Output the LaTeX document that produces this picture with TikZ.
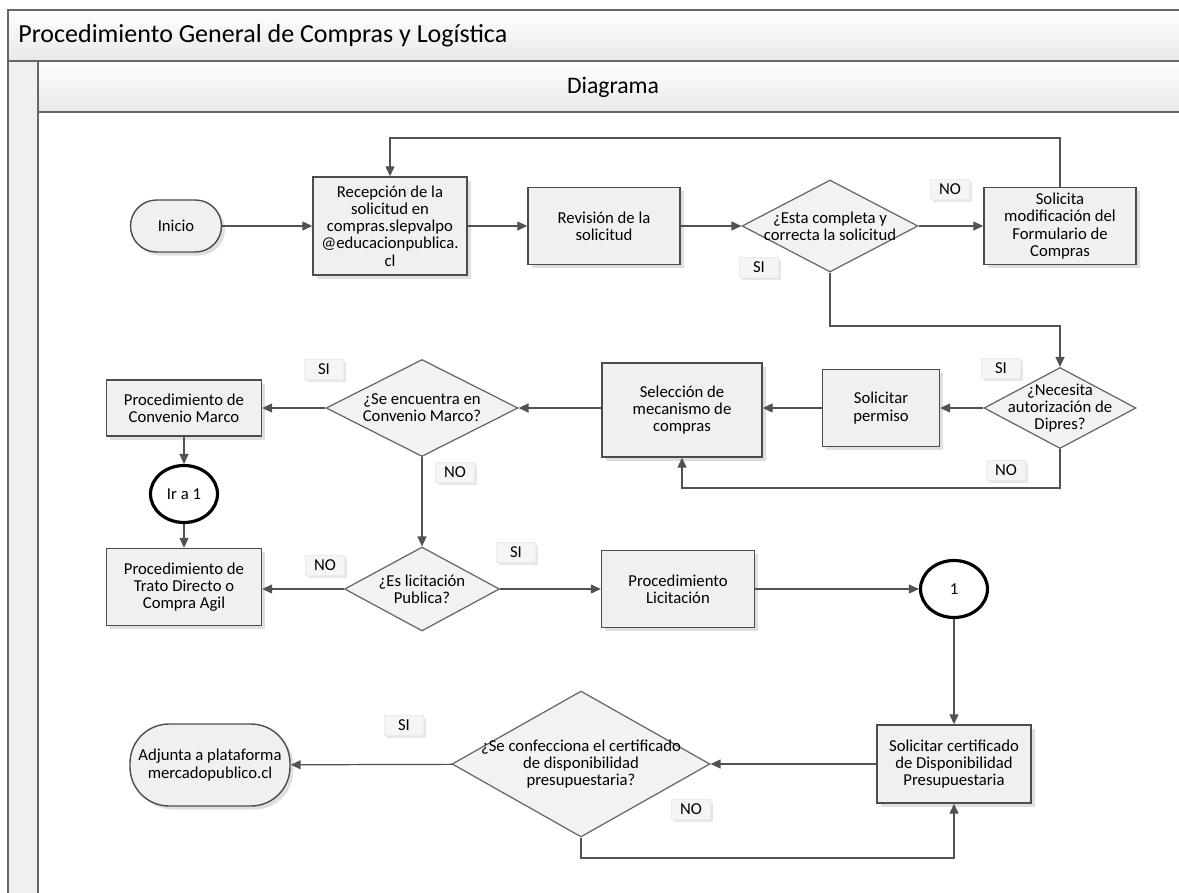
\documentclass[tikz,border=0pt]{standalone}
\usepackage{fontspec}
\setmainfont{Carlito}
\usepackage{tikz}
\usetikzlibrary{arrows.meta,positioning,calc,shapes.geometric,shadows}

\newcommand{\bxfont}{\fontsize{9.5}{9.8}\selectfont}
\newcommand{\hdfont}{\fontsize{13.5}{15}\selectfont}
\newcommand{\ttlfont}{\fontsize{14.8}{16}\selectfont}

\begin{document}
\begin{tikzpicture}[x=0.02cm,y=-0.02cm,>={Triangle[length=2mm,width=1.8mm]},
  flow/.style={->,draw=black!68,line width=0.7pt},
  proc/.style={draw=black!70,fill=black!6,line width=0.8pt,align=center,
    font=\bxfont,inner sep=2pt,
    drop shadow={shadow xshift=2pt,shadow yshift=-2pt,opacity=0.25}},
  term/.style={proc,rounded corners=0.52cm},
  dec/.style={diamond,draw=black!60,fill=black!5,line width=0.7pt,inner sep=0pt},
  dtxt/.style={align=center,font=\bxfont,inner sep=0pt},
  conn/.style={ellipse,draw=black,line width=1.8pt,fill=white,
    minimum width=1.34cm,minimum height=1.14cm,inner sep=0pt,font=\bxfont},
  tag/.style={fill=black!4,draw=black!8,minimum width=0.78cm,minimum height=0.4cm,
    inner sep=0pt,font=\bxfont,
    drop shadow={shadow xshift=1.5pt,shadow yshift=-1.5pt,opacity=0.2}}]

  \useasboundingbox (0,0) rectangle (1179,892);

  % pool and lane
  \shade[top color=white,bottom color=black!9,draw=black!60,line width=0.8pt]
    (8,10) rectangle (1190,61);
  \fill[black!6,draw=black!60,line width=0.8pt] (8,61) rectangle (38,900);
  \shade[top color=white,bottom color=black!9,draw=black!60,line width=0.8pt]
    (38,61) rectangle (1190,112);
  \draw[black!60,line width=0.8pt] (38,112) rectangle (1190,900);
  \node[anchor=west,font=\ttlfont,inner sep=0pt] (title) at (18,36)
    {Procedimiento General de Compras y Logística};
  \node[font=\hdfont] (lane) at (613,87) {Diagrama};

  % first row
  \node[term,minimum width=1.82cm,minimum height=1.04cm] (inicio) at (176,226) {Inicio};
  \node[proc,minimum width=3.08cm,minimum height=1.96cm] (recep) at (390,226)
    {Recepción de la\\solicitud en\\compras.slepvalpo\\@educacionpublica.\\cl};
  \node[proc,minimum width=3.04cm,minimum height=1.54cm] (revis) at (604,226)
    {Revisión de la\\solicitud};
  \node[dec,minimum width=3.52cm,minimum height=1.84cm,
    label={[dtxt]center:{¿Esta completa y\\correcta la solicitud}}] (d1) at (830,226) {};
  \node[proc,minimum width=3.04cm,minimum height=1.54cm] (solmod) at (1060,226)
    {Solicita\\modificación del\\Formulario de\\Compras};

  % second row
  \node[dec,minimum width=3.04cm,minimum height=1.62cm,
    label={[dtxt]center:{¿Necesita\\autorización de\\Dipres?}}] (nec) at (1060,408) {};
  \node[proc,minimum width=2.34cm,minimum height=1.54cm] (perm) at (881,408)
    {Solicitar\\permiso};
  \node[proc,minimum width=3.2cm,minimum height=1.88cm] (selec) at (682,410)
    {Selección de\\mecanismo de\\compras};
  \node[dec,minimum width=3.84cm,minimum height=1.94cm,
    label={[dtxt]center:{¿Se encuentra en\\Convenio Marco?}}] (conv) at (422,408) {};
  \node[proc,minimum width=3.1cm,minimum height=1.12cm] (pconv) at (184,408)
    {Procedimiento de\\Convenio Marco};
  \node[conn] (ira) at (184,494) {Ir a 1};

  % third row
  \node[proc,minimum width=3.1cm,minimum height=1.54cm] (trato) at (184,587)
    {Procedimiento de\\Trato Directo o\\Compra Agil};
  \node[dec,minimum width=3.1cm,minimum height=1.68cm,
    label={[dtxt]center:{¿Es licitación\\Publica?}}] (lic) at (422,589) {};
  \node[proc,minimum width=3.06cm,minimum height=1.54cm] (plic) at (678,589)
    {Procedimiento\\Licitación};
  \node[conn] (uno) at (954,589) {1};

  % fourth row
  \node[proc,minimum width=3.08cm,minimum height=1.56cm] (cert) at (954,764)
    {Solicitar certificado\\de Disponibilidad\\Presupuestaria};
  \node[dec,minimum width=5.16cm,minimum height=2.92cm,
    label={[dtxt]center:{¿Se confecciona el certificado\\de disponibilidad\\presupuestaria?}}]
    (dcert) at (581,764) {};
  \node[term,rounded corners=0.78cm,minimum width=3.2cm,minimum height=1.64cm]
    (adj) at (210,765) {Adjunta a plataforma\\mercadopublico.cl};

  % answers
  \node[tag] (no1) at (950,189) {NO};
  \node[tag] (si1) at (759,267) {SI};
  \node[tag] (si2) at (1001,368) {SI};
  \node[tag] (no2) at (1006,470) {NO};
  \node[tag] (si3) at (324,369) {SI};
  \node[tag] (no3) at (455,472) {NO};
  \node[tag] (no4) at (325,565) {NO};
  \node[tag] (si4) at (516,552) {SI};
  \node[tag] (si5) at (404,725) {SI};
  \node[tag] (no5) at (691,809) {NO};

  \coordinate (back) at (390,138);
  \coordinate (d1turn) at (830,326);
  \coordinate (necturn) at (1060,488);
  \coordinate (certturn) at (581,858);

  \draw[flow] (inicio) -- (recep);
  \draw[flow] (recep) -- (revis);
  \draw[flow] (revis) -- (d1);
  \draw[flow] (d1) -- (solmod);
  \draw[flow] (solmod.north) |- (back) -- (recep.north);
  \draw[flow] (d1.south) -- (d1turn) -| (nec.north);
  \draw[flow] (nec) -- (perm);
  \draw[flow] (perm.west) -- (perm.west -| selec.east);
  \draw[flow] (nec.south) -- (necturn) -| (selec.south);
  \draw[flow] (selec.west |- conv.east) -- (conv.east);
  \draw[flow] (conv) -- (pconv);
  \draw[flow] (pconv) -- (ira);
  \draw[flow] (ira) -- (trato);
  \draw[flow] (conv) -- (lic);
  \draw[flow] (lic) -- (trato.east |- lic);
  \draw[flow] (lic) -- (plic);
  \draw[flow] (plic) -- (uno);
  \draw[flow] (uno) -- (cert);
  \draw[flow] (cert) -- (dcert);
  \draw[flow] (dcert) -- (adj);
  \draw[flow] (dcert.south) -- (certturn) -| (cert.south);
\end{tikzpicture}
\end{document}
